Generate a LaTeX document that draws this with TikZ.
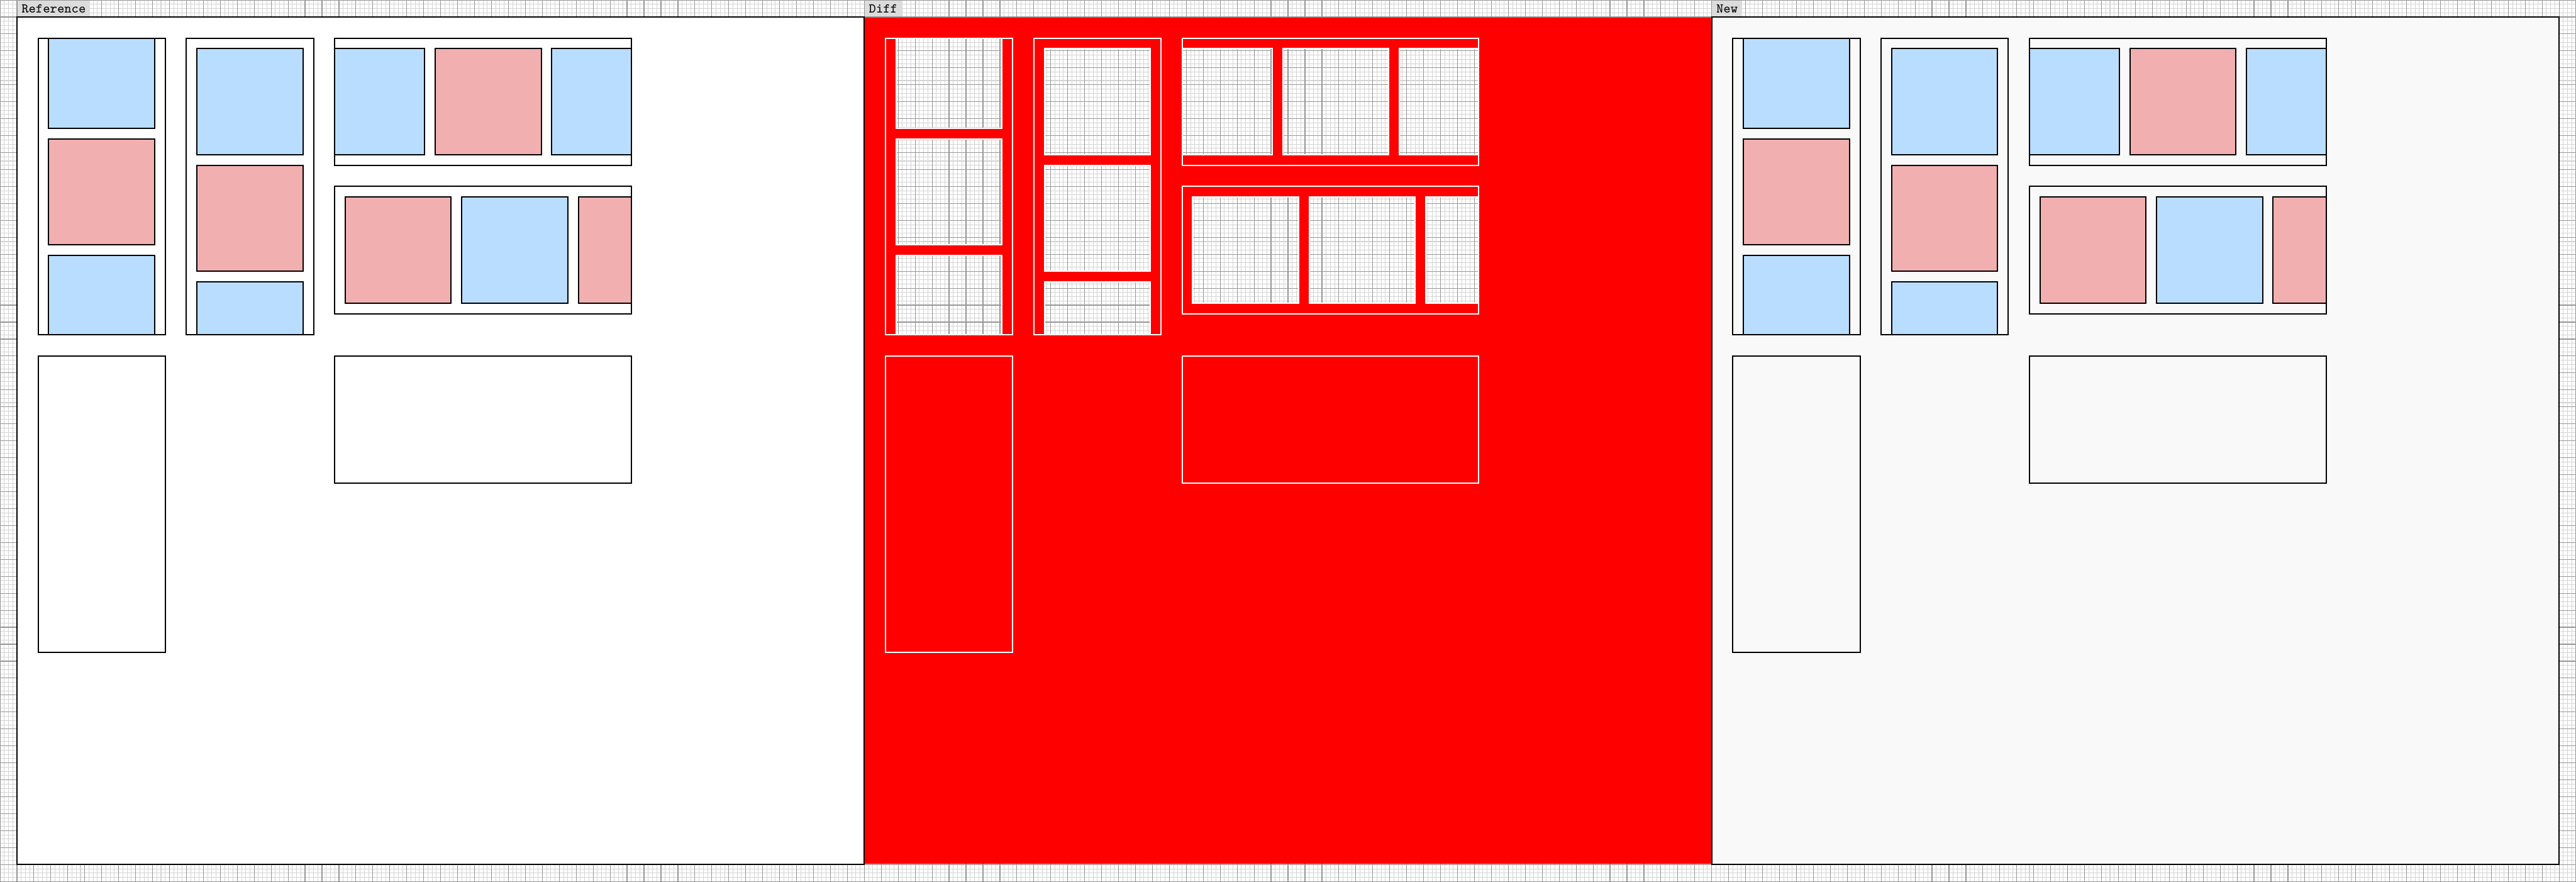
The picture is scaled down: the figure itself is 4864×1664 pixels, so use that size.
\documentclass[tikz,border=0pt]{standalone}
\usepackage{fontspec}
\newfontfamily\tagfont{lmmonolt10-bold.otf}

\definecolor{boxblue}{RGB}{185,221,255}
\definecolor{boxpink}{RGB}{241,175,176}
\definecolor{gridminor}{RGB}{212,212,212}
\definecolor{gridmajor}{RGB}{150,150,150}
\definecolor{tagfill}{RGB}{220,220,220}
\definecolor{newbg}{RGB}{249,249,249}
\definecolor{diffred}{RGB}{255,0,0}

\tikzset{
  minorline/.style={draw=gridminor, line width=0.012cm},
  majorline/.style={draw=gridmajor, line width=0.014cm},
  panelframe/.style={draw=black, line width=0.024cm},
  holder/.style={line width=0.024cm},
  kid/.style={line width=0.024cm},
  tag/.style={fill=tagfill, anchor=south west, inner xsep=0.08cm, inner ysep=0pt,
    minimum height=0.3cm, text=black!90,
    font=\tagfont\fontsize{7.3pt}{8pt}\selectfont}
}

% #1 container fill, #2 lines, #3 and #4 the two box fills
\newcommand{\flexlayout}[4]{%
  \begin{scope}
    \clip (72,72) rectangle (312,632);
    \path[fill=#1] (72,72) rectangle (312,632);
    \path[kid, draw=#2, fill=#3] (92,42) rectangle ++(200,200);
    \path[kid, draw=#2, fill=#4] (92,262) rectangle ++(200,200);
    \path[kid, draw=#2, fill=#3] (92,482) rectangle ++(200,200);
  \end{scope}
  \draw[holder, draw=#2] (72,72) rectangle (312,632);
  \begin{scope}
    \clip (352,72) rectangle (592,632);
    \path[fill=#1] (352,72) rectangle (592,632);
    \path[kid, draw=#2, fill=#3] (372,92) rectangle ++(200,200);
    \path[kid, draw=#2, fill=#4] (372,312) rectangle ++(200,200);
    \path[kid, draw=#2, fill=#3] (372,532) rectangle ++(200,200);
  \end{scope}
  \draw[holder, draw=#2] (352,72) rectangle (592,632);
  \begin{scope}
    \clip (632,72) rectangle (1192,312);
    \path[fill=#1] (632,72) rectangle (1192,312);
    \path[kid, draw=#2, fill=#3] (602,92) rectangle ++(200,200);
    \path[kid, draw=#2, fill=#4] (822,92) rectangle ++(200,200);
    \path[kid, draw=#2, fill=#3] (1042,92) rectangle ++(200,200);
  \end{scope}
  \draw[holder, draw=#2] (632,72) rectangle (1192,312);
  \begin{scope}
    \clip (632,352) rectangle (1192,592);
    \path[fill=#1] (632,352) rectangle (1192,592);
    \path[kid, draw=#2, fill=#4] (652,372) rectangle ++(200,200);
    \path[kid, draw=#2, fill=#3] (872,372) rectangle ++(200,200);
    \path[kid, draw=#2, fill=#4] (1092,372) rectangle ++(200,200);
  \end{scope}
  \draw[holder, draw=#2] (632,352) rectangle (1192,592);
  \draw[holder, draw=#2, fill=#1] (72,672) rectangle (312,1232);
  \draw[holder, draw=#2, fill=#1] (632,672) rectangle (1192,912);
}

\begin{document}
\begin{tikzpicture}[x=0.01cm, y=-0.01cm]
\useasboundingbox (0,0) rectangle (4864,1664);
\fill[white] (0,0) rectangle (4864,1664);
\foreach \gx in {0,8,...,4864} \draw[minorline] (\gx,0) -- (\gx,1664);
\foreach \gy in {0,8,...,1664} \draw[minorline] (0,\gy) -- (4864,\gy);
\foreach \gx in {0,32,...,4864} \draw[majorline] (\gx,0) -- (\gx,1664);
\foreach \gy in {0,32,...,1664} \draw[majorline] (0,\gy) -- (4864,\gy);

% reference
\fill[white] (32,32) rectangle (1632,1632);
\flexlayout{white}{black}{boxblue}{boxpink}
\draw[panelframe] (32,32) rectangle (1632,1632);
\node[tag] (reftag) at (32,32) {Reference};

% diff
\begin{scope}[shift={(1600,0)}]
  \fill[diffred, even odd rule] (33,33) rectangle (1631,1631)
    (92,72) rectangle (292,242) (92,262) rectangle (292,462) (92,482) rectangle (292,632)
    (372,92) rectangle (572,292) (372,312) rectangle (572,512) (372,532) rectangle (572,632)
    (632,92) rectangle (802,292) (822,92) rectangle (1022,292) (1042,92) rectangle (1192,292)
    (652,372) rectangle (852,572) (872,372) rectangle (1072,572) (1092,372) rectangle (1192,572);
  \flexlayout{none}{white}{none}{none}
\end{scope}
\node[tag] (difftag) at (1632,32) {Diff};

% new
\begin{scope}[shift={(3200,0)}]
  \fill[newbg] (32,32) rectangle (1632,1632);
  \flexlayout{newbg}{black}{boxblue}{boxpink}
  \draw[panelframe] (32,32) rectangle (1632,1632);
\end{scope}
\node[tag] (newtag) at (3232,32) {New};
\end{tikzpicture}
\end{document}
